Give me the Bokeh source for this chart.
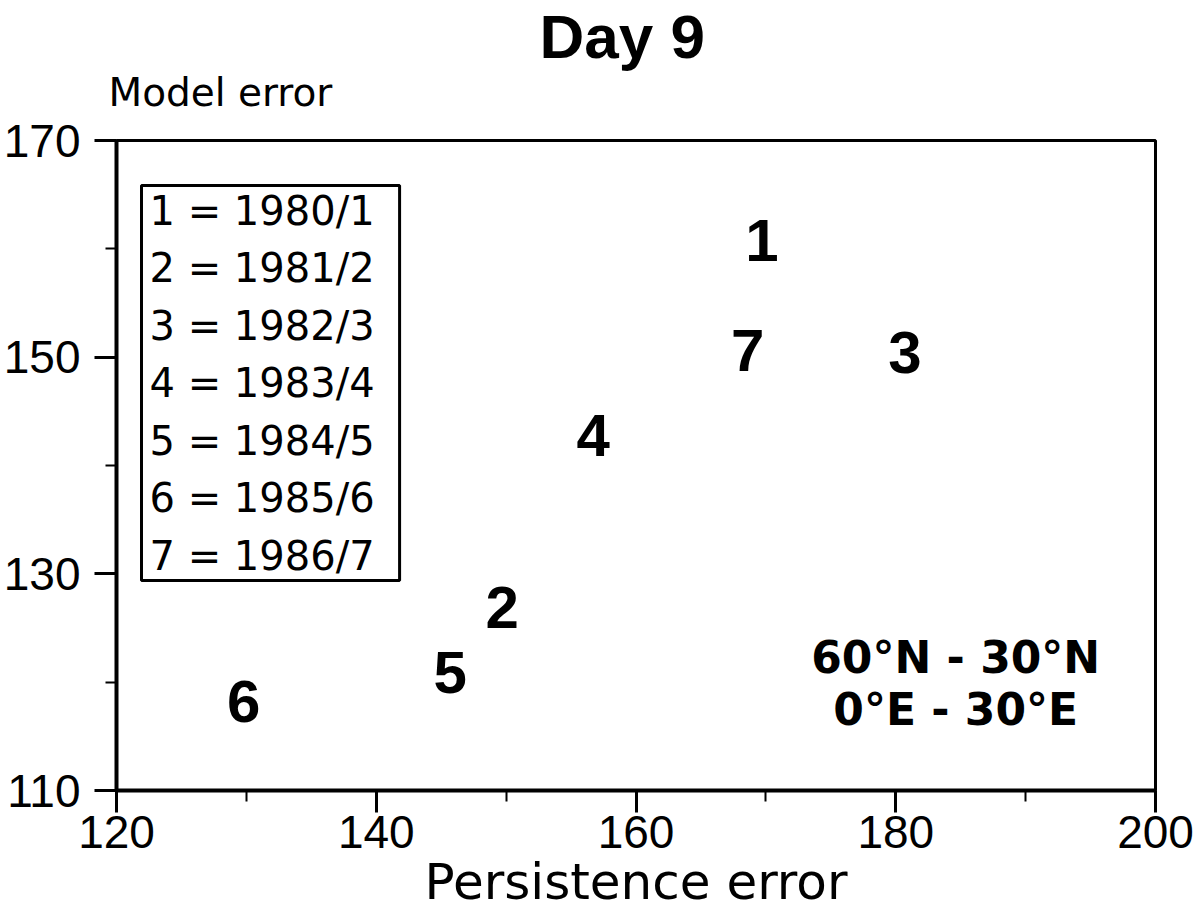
from bokeh.plotting import figure
from bokeh.models import Range1d, FixedTicker, Label, ColumnDataSource, Title
from bokeh.core.properties import value
from bokeh.embed import file_html
from bokeh.resources import INLINE

# ---- data ----
point_ids = ["1", "2", "3", "4", "5", "6", "7"]
seasons = ["1980/1", "1981/2", "1982/3", "1983/4", "1984/5", "1985/6", "1986/7"]
persistence_error = [169.7, 149.7, 180.7, 156.7, 145.7, 129.8, 168.6]
model_error = [160.8, 126.9, 150.4, 142.8, 120.9, 118.2, 150.6]

x_start, x_end = 120, 200
y_start, y_end = 110, 170
x_major_ticks = [120, 140, 160, 180, 200]
x_minor_ticks = [130, 150, 170, 190]
y_major_ticks = [110, 130, 150, 170]
y_minor_ticks = [120, 140, 160]

title_text = "Day 9"
x_label = "Persistence error"
y_label = "Model error"
region_lines = ["60°N - 30°N", "0°E - 30°E"]

# ---- figure ----
p = figure(width=1194, height=923, output_backend="svg", toolbar_location=None,
           x_range=Range1d(x_start, x_end), y_range=Range1d(y_start, y_end),
           min_border_left=115, min_border_right=39, min_border_top=140,
           min_border_bottom=133)
p.background_fill_color = "white"
p.border_fill_color = "white"
p.xgrid.visible = False
p.ygrid.visible = False
p.outline_line_color = "black"
p.outline_line_width = 3
p.outline_line_alpha = 1.0

# title
p.title.text = title_text
p.title.align = "left"
p.title.offset = 423
p.title.text_font = "Liberation Sans"
p.title.text_font_style = "bold"
p.title.text_font_size = "62px"
p.title.text_color = "black"
p.title.standoff = -58

# y label as horizontal text above the plot's top-left corner
p.add_layout(Title(text=y_label, align="left", offset=-8,
                   text_font="DejaVu Sans", text_font_style="normal",
                   text_font_size="39px", text_color="black", standoff=52),
             "above")

p.xaxis.ticker = FixedTicker(ticks=x_major_ticks, minor_ticks=x_minor_ticks)
p.yaxis.ticker = FixedTicker(ticks=y_major_ticks, minor_ticks=y_minor_ticks)

for ax, standoff in ((p.xaxis[0], 3), (p.yaxis[0], 14)):
    ax.axis_line_width = 4
    ax.axis_line_color = "black"
    ax.major_tick_line_width = 3
    ax.major_tick_line_color = "black"
    ax.minor_tick_line_width = 2
    ax.minor_tick_line_color = "black"
    ax.major_tick_out = 22
    ax.major_tick_in = 0
    ax.minor_tick_out = 11
    ax.minor_tick_in = 0
    ax.major_label_text_font = "Liberation Sans"
    ax.major_label_text_font_size = "46px"
    ax.major_label_text_color = "black"
    ax.major_label_standoff = standoff

p.xaxis.axis_label = x_label
p.xaxis.axis_label_text_font = "DejaVu Sans"
p.xaxis.axis_label_text_font_style = "normal"
p.xaxis.axis_label_text_font_size = "50px"
p.xaxis.axis_label_text_color = "black"
p.xaxis.axis_label_standoff = 2

# ---- points as numbers ----
src = ColumnDataSource(dict(x=persistence_error, y=model_error, label=point_ids))
p.text(x="x", y="y", text="label", source=src,
       text_font=value("Liberation Sans"), text_font_style="bold",
       text_font_size="60px", text_align="center", text_baseline="middle",
       text_color="black")

# ---- legend box ----
legend_text = "\n".join(f"{i} = {s}" for i, s in zip(point_ids, seasons))
px_x = (x_end - x_start) / 1040.0
px_y = (y_end - y_start) / 650.0
legend = Label(x=x_start + 25 * px_x, y=y_end - 45 * px_y, text=legend_text,
               text_font="DejaVu Sans", text_font_size="40px",
               text_align="left", text_baseline="top", text_line_height=1.25,
               text_color="black",
               border_line_color="black", border_line_width=3,
               background_fill_color="white", padding=(8, 25, 2, 2))
p.add_layout(legend)

# ---- region text ----
reg_x = x_start + 840 * px_x
p.add_layout(Label(x=reg_x, y=y_end - 517 * px_y, text=region_lines[0],
                   text_font="DejaVu Sans", text_font_style="bold",
                   text_font_size="44px", text_align="center",
                   text_baseline="middle", text_color="black"))
p.add_layout(Label(x=reg_x, y=y_end - 569 * px_y, text=region_lines[1],
                   text_font="DejaVu Sans", text_font_style="bold",
                   text_font_size="44px", text_align="center",
                   text_baseline="middle", text_color="black"))

open("out.html", "w").write(file_html(p, INLINE))
